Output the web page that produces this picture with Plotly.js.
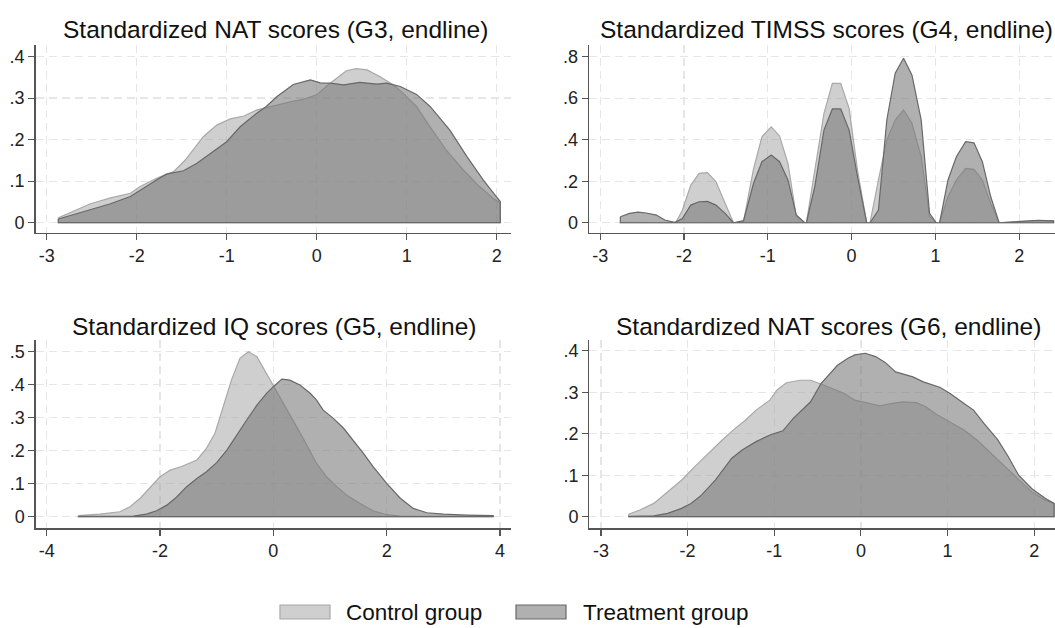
<!DOCTYPE html>
<html>
<head>
<meta charset="utf-8">
<script src="https://cdn.plot.ly/plotly-3.0.1.min.js"></script>
<style>
  html, body { margin: 0; padding: 0; background: #ffffff; }
  #chart { width: 1055px; height: 628px; }
</style>
</head>
<body>
<div id="chart"></div>
<script>
// ---------- Data ----------
const seriesNames = ["Control group", "Treatment group"];
const panelTitles = [
  "Standardized NAT scores (G3, endline)",
  "Standardized TIMSS scores (G4, endline)",
  "Standardized IQ scores (G5, endline)",
  "Standardized NAT scores (G6, endline)"
];

// Panel 1: NAT G3
const g3_x_control = [-2.87,-2.52,-2.3,-2.07,-1.96,-1.78,-1.59,-1.46,-1.26,-1.11,-0.96,-0.81,-0.67,-0.44,-0.26,-0.15,0,0.15,0.33,0.44,0.56,0.7,0.85,0.96,1.11,1.26,1.44,1.63,1.81,1.96,2.04];
const g3_y_control = [0.012,0.045,0.059,0.071,0.087,0.107,0.123,0.151,0.207,0.235,0.25,0.257,0.271,0.284,0.293,0.297,0.308,0.336,0.366,0.371,0.368,0.352,0.332,0.312,0.28,0.231,0.175,0.127,0.087,0.059,0.047];
const g3_x_treat = [-2.87,-2.52,-2.3,-2.07,-1.96,-1.78,-1.67,-1.48,-1.33,-1.15,-1,-0.85,-0.67,-0.56,-0.44,-0.26,-0.07,0.04,0.15,0.3,0.48,0.67,0.78,0.93,1.11,1.26,1.48,1.67,1.85,1.98,2.04];
const g3_y_treat = [0.009,0.031,0.045,0.063,0.079,0.103,0.117,0.125,0.143,0.171,0.195,0.231,0.263,0.28,0.304,0.333,0.344,0.337,0.336,0.332,0.338,0.334,0.336,0.328,0.309,0.28,0.223,0.159,0.103,0.067,0.051];

// Panel 2: TIMSS G4
const g4_x_control = [-2.76,-2.13,-2.1,-2.02,-1.92,-1.82,-1.72,-1.62,-1.51,-1.41,-1.29,-1.17,-1.07,-0.96,-0.86,-0.76,-0.66,-0.56,-0.54,-0.44,-0.33,-0.23,-0.13,-0.03,0.07,0.18,0.22,0.32,0.42,0.52,0.62,0.72,0.83,0.93,1.01,1.05,1.15,1.25,1.36,1.46,1.56,1.66,1.76,1.85,2.03,2.23,2.41];
const g4_y_control = [0.002,0.002,0,0.06,0.18,0.238,0.241,0.198,0.093,0,0.005,0.26,0.414,0.462,0.418,0.286,0.03,0,0,0.254,0.527,0.671,0.671,0.551,0.254,0,0,0.206,0.398,0.495,0.543,0.479,0.318,0.03,0,0,0.125,0.206,0.262,0.257,0.206,0.093,0,0.002,0.006,0.01,0.008];
const g4_x_treat = [-2.76,-2.65,-2.55,-2.45,-2.33,-2.23,-2.13,-2.1,-2.02,-1.92,-1.82,-1.72,-1.62,-1.51,-1.41,-1.29,-1.17,-1.07,-0.96,-0.86,-0.76,-0.66,-0.56,-0.54,-0.44,-0.33,-0.23,-0.13,-0.03,0.07,0.18,0.22,0.32,0.42,0.52,0.62,0.72,0.83,0.93,1.01,1.05,1.15,1.25,1.36,1.46,1.56,1.66,1.76,1.85,2.03,2.23,2.41];
const g4_y_treat = [0.029,0.045,0.051,0.047,0.037,0.013,0.003,0.003,0.02,0.085,0.101,0.103,0.085,0.045,0,0.01,0.19,0.294,0.326,0.294,0.206,0.037,0,0,0.173,0.446,0.548,0.548,0.446,0.222,0,0,0.061,0.495,0.72,0.792,0.711,0.495,0.045,0,0,0.206,0.318,0.39,0.385,0.294,0.125,0,0.002,0.007,0.012,0.009];

// Panel 3: IQ G5
const g5_x_control = [-3.44,-3.06,-2.71,-2.53,-2.35,-2.18,-2.0,-1.82,-1.62,-1.35,-1.18,-1.03,-0.88,-0.74,-0.59,-0.44,-0.29,-0.12,0.06,0.24,0.41,0.59,0.76,0.94,1.12,1.29,1.53,1.76,2.0,2.24,2.6,3.0,3.4,3.88];
const g5_y_control = [0.003,0.008,0.015,0.03,0.056,0.086,0.121,0.141,0.152,0.172,0.207,0.253,0.333,0.414,0.48,0.5,0.485,0.434,0.379,0.328,0.273,0.217,0.162,0.121,0.091,0.066,0.04,0.018,0.006,0.002,0.001,0.001,0.001,0.001];
const g5_x_treat = [-3.44,-2.47,-2.24,-2.06,-1.88,-1.71,-1.53,-1.35,-1.18,-1.0,-0.82,-0.65,-0.47,-0.29,-0.12,0,0.15,0.29,0.47,0.65,0.76,0.88,1.06,1.24,1.41,1.59,1.76,2.0,2.24,2.47,2.71,3.0,3.41,3.88];
const g5_y_treat = [0.001,0.002,0.008,0.018,0.035,0.059,0.091,0.116,0.136,0.164,0.202,0.247,0.293,0.338,0.374,0.394,0.417,0.414,0.399,0.374,0.354,0.323,0.298,0.268,0.232,0.192,0.152,0.101,0.056,0.025,0.012,0.008,0.005,0.003];

// Panel 4: NAT G6
const g6_x_control = [-2.68,-2.55,-2.39,-2.23,-2.07,-1.92,-1.76,-1.6,-1.45,-1.33,-1.21,-1.05,-0.97,-0.86,-0.7,-0.58,-0.46,-0.31,-0.19,-0.07,0.05,0.22,0.36,0.48,0.64,0.75,0.87,1.03,1.19,1.34,1.5,1.66,1.82,1.97,2.13,2.23];
const g6_y_control = [0.006,0.016,0.032,0.06,0.088,0.12,0.153,0.185,0.213,0.233,0.257,0.281,0.305,0.323,0.329,0.329,0.32,0.307,0.297,0.281,0.275,0.267,0.273,0.277,0.275,0.265,0.247,0.229,0.209,0.185,0.153,0.12,0.088,0.06,0.04,0.032];
const g6_x_treat = [-2.68,-2.39,-2.23,-2.07,-1.96,-1.84,-1.68,-1.49,-1.37,-1.21,-1.05,-0.9,-0.78,-0.58,-0.46,-0.37,-0.27,-0.15,-0.07,0.05,0.17,0.28,0.4,0.6,0.72,0.91,1.03,1.19,1.3,1.42,1.58,1.7,1.82,1.97,2.13,2.23];
const g6_y_treat = [0.001,0.002,0.008,0.02,0.032,0.052,0.088,0.141,0.161,0.181,0.197,0.207,0.237,0.277,0.321,0.341,0.365,0.382,0.39,0.394,0.386,0.372,0.349,0.337,0.325,0.312,0.297,0.273,0.257,0.225,0.185,0.145,0.1,0.068,0.044,0.032];

// Tick values / labels
const xticks_p1 = [-3,-2,-1,0,1,2];
const xticks_p2 = [-3,-2,-1,0,1,2];
const xticks_p3 = [-4,-2,0,2,4];
const xticks_p4 = [-3,-2,-1,0,1,2];
const yticks_p1 = [0,0.1,0.2,0.3,0.4];
const ylabels_p1 = ["0",".1",".2",".3",".4"];
const yticks_p2 = [0,0.2,0.4,0.6,0.8];
const ylabels_p2 = ["0",".2",".4",".6",".8"];
const yticks_p3 = [0,0.1,0.2,0.3,0.4,0.5];
const ylabels_p3 = ["0",".1",".2",".3",".4",".5"];
const yticks_p4 = [0,0.1,0.2,0.3,0.4];
const ylabels_p4 = ["0",".1",".2",".3",".4"];

// ---------- Styling ----------
const W = 1055, H = 628;
const FONT = "Liberation Sans, Arial, Helvetica, sans-serif";
const controlFill = "rgba(159,159,159,0.5)";
const controlLine = "rgb(168,168,168)";
const treatFill = "rgba(119,119,119,0.58)";
const treatLine = "rgb(104,104,104)";

function closedArea(xs, ys, xa, ya, fill, line, name) {
  const n = xs.length;
  const x = xs.concat([xs[n-1], xs[0], xs[0]]);
  const y = ys.concat([0, 0, ys[0]]);
  return {
    x: x, y: y, xaxis: xa, yaxis: ya, name: name,
    type: "scatter", mode: "lines", fill: "toself",
    fillcolor: fill, line: {color: line, width: 1.2},
    hoverinfo: "skip", showlegend: false
  };
}

const traces = [
  closedArea(g3_x_control, g3_y_control, "x", "y", controlFill, controlLine, seriesNames[0]),
  closedArea(g3_x_treat, g3_y_treat, "x", "y", treatFill, treatLine, seriesNames[1]),
  closedArea(g4_x_control, g4_y_control, "x2", "y2", controlFill, controlLine, seriesNames[0]),
  closedArea(g4_x_treat, g4_y_treat, "x2", "y2", treatFill, treatLine, seriesNames[1]),
  closedArea(g5_x_control, g5_y_control, "x3", "y3", controlFill, controlLine, seriesNames[0]),
  closedArea(g5_x_treat, g5_y_treat, "x3", "y3", treatFill, treatLine, seriesNames[1]),
  closedArea(g6_x_control, g6_y_control, "x4", "y4", controlFill, controlLine, seriesNames[0]),
  closedArea(g6_x_treat, g6_y_treat, "x4", "y4", treatFill, treatLine, seriesNames[1])
];

function px(v) { return v / W; }
function py(v) { return 1 - v / H; }

function xAxis(domainPx, range, ticks, anchor) {
  return {
    domain: [px(domainPx[0]), px(domainPx[1])], range: range, anchor: anchor,
    tickmode: "array", tickvals: ticks, ticktext: ticks.map(String),
    showline: true, linecolor: "#555555", linewidth: 1.3,
    ticks: "outside", ticklen: 6, tickwidth: 1.2, tickcolor: "#555555",
    showgrid: true, gridcolor: "#e6e6e6", gridwidth: 1.3, griddash: "8px,5px",
    zeroline: false, tickfont: {family: FONT, size: 18, color: "#222222"},
    fixedrange: true
  };
}
function yAxis(domainPx, range, ticks, labels, anchor) {
  return {
    domain: [py(domainPx[1]), py(domainPx[0])], range: range, anchor: anchor,
    tickmode: "array", tickvals: ticks, ticktext: labels,
    showline: true, linecolor: "#555555", linewidth: 1.3,
    ticks: "outside", ticklen: 6, tickwidth: 1.2, tickcolor: "#555555",
    showgrid: true, gridcolor: "#e6e6e6", gridwidth: 1.3, griddash: "8px,5px",
    zeroline: false, tickfont: {family: FONT, size: 18, color: "#222222"},
    fixedrange: true
  };
}

function titleAnn(text, xc, yc) {
  return {text: text, xref: "paper", yref: "paper", x: px(xc), y: py(yc),
    xanchor: "center", yanchor: "middle", showarrow: false,
    font: {family: FONT, size: 24.5, color: "#111111"}};
}
function legText(text, xl, yc) {
  return {text: text, xref: "paper", yref: "paper", x: px(xl), y: py(yc),
    xanchor: "left", yanchor: "middle", showarrow: false,
    font: {family: FONT, size: 22.5, color: "#111111"}};
}

const layout = {
  width: W, height: H,
  margin: {l: 0, r: 0, t: 0, b: 0},
  paper_bgcolor: "#ffffff", plot_bgcolor: "#ffffff",
  showlegend: false,
  xaxis:  xAxis([35.5, 510.7], [-3.124, 2.156], xticks_p1, "y"),
  yaxis:  yAxis([45, 232.7], [-0.0241, 0.428], yticks_p1, ylabels_p1, "x"),
  xaxis2: xAxis([589, 1055], [-3.134, 2.427], xticks_p2, "y2"),
  yaxis2: yAxis([45, 232.7], [-0.048, 0.856], yticks_p2, ylabels_p2, "x2"),
  xaxis3: xAxis([35.7, 510.7], [-4.194, 4.189], xticks_p3, "y3"),
  yaxis3: yAxis([340, 528.3], [-0.0352, 0.5355], yticks_p3, ylabels_p3, "x3"),
  xaxis4: xAxis([589.3, 1055], [-3.134, 2.24], xticks_p4, "y4"),
  yaxis4: yAxis([340, 528.3], [-0.028, 0.426], yticks_p4, ylabels_p4, "x4"),
  annotations: [
    titleAnn(panelTitles[0], 275, 29),
    titleAnn(panelTitles[1], 826, 29),
    titleAnn(panelTitles[2], 274, 326),
    titleAnn(panelTitles[3], 828, 326),
    legText(seriesNames[0], 344, 612),
    legText(seriesNames[1], 581, 612)
  ],
  shapes: [
    {type: "rect", xref: "paper", yref: "paper", x0: px(280), x1: px(330), y0: py(619), y1: py(605),
     fillcolor: controlFill, line: {color: controlLine, width: 1.2}},
    {type: "rect", xref: "paper", yref: "paper", x0: px(516), x1: px(566), y0: py(619), y1: py(605),
     fillcolor: treatFill, line: {color: treatLine, width: 1.2}}
  ]
};

Plotly.newPlot("chart", traces, layout, {staticPlot: true, displayModeBar: false});
</script>
</body>
</html>
